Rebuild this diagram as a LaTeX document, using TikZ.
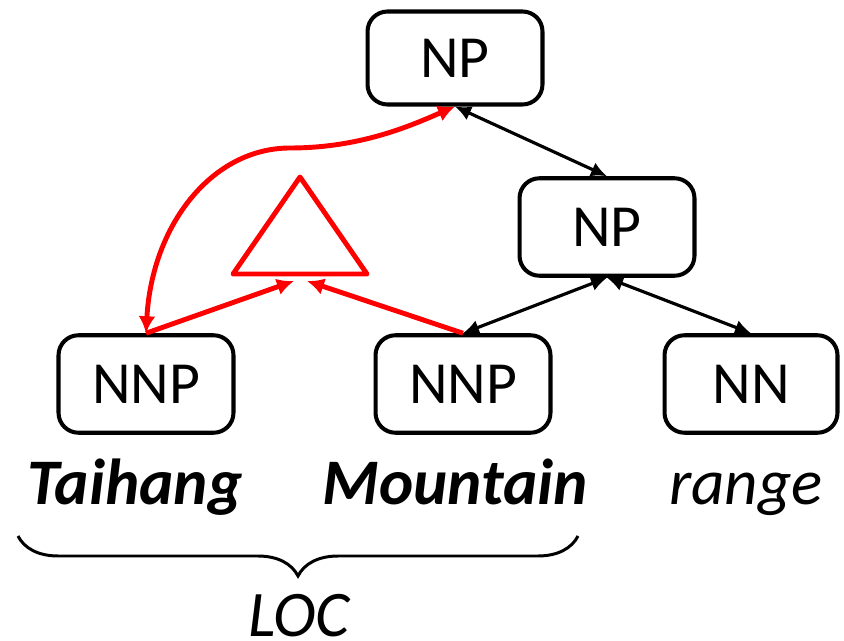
\documentclass[tikz,border=0pt]{standalone}
\usepackage{fontspec}
\setmainfont{Carlito}
\usetikzlibrary{arrows.meta, decorations.pathreplacing}

\begin{document}
\begin{tikzpicture}[x=0.02cm, y=-0.02cm,
			tag/.style={draw, line width=2.3pt, rounded corners=0.4cm, minimum width=3.5cm, minimum height=1.95cm, inner sep=0pt, font=\fontsize{34}{40}\selectfont},
			word/.style={anchor=base, inner sep=0pt, font=\fontsize{37}{44}\selectfont\itshape},
			link/.style={line width=1.8pt, {Latex[length=0.32cm, width=0.3cm]}-{Latex[length=0.32cm, width=0.3cm]}},
			redlink/.style={red, line width=2.8pt, -{Latex[length=0.34cm, width=0.34cm]}}]
			\useasboundingbox (0, 0) rectangle (844, 641);
			
			\node[tag, minimum height=1.86cm] (npa) at (455, 58) {NP};
			\node[tag] (npb) at (607, 227) {NP};
			\node[tag] (nnpa) at (146, 384) {NNP};
			\node[tag] (nnpb) at (463, 384) {NNP};
			\node[tag, minimum width=3.46cm] (nn) at (751, 384) {NN};
			
			\node[word, font=\fontsize{37}{44}\selectfont\bfseries\itshape] (tai) at (135, 504) {Taihang};
			\node[word, font=\fontsize{37}{44}\selectfont\bfseries\itshape] (mount) at (455, 504) {Mountain};
			\node[word] (rng) at (746, 504) {range};
			\node[word] (loc) at (299, 636) {LOC};
			
			\draw[link] (npa.south) -- (npb.north);
			\draw[link] (npb.south) -- (nnpb.north);
			\draw[link] (npb.south) -- (nn.north);
			
			% triangle
			\coordinate (tritop) at (300, 177);
			\coordinate (trileft) at (233, 274);
			\coordinate (triright) at (367, 274);
			\coordinate (tipa) at (294, 281);
			\coordinate (tipb) at (307, 281);
			\draw[red, line width=2.8pt, line join=round] (tritop) -- (trileft) -- (triright) -- cycle;
			
			\draw[redlink] (nnpa.north) -- (tipa);
			\draw[redlink] (nnpb.north) -- (tipb);
			\draw[redlink, {Latex[length=0.34cm, width=0.34cm]}-{Latex[length=0.34cm, width=0.34cm]}] (nnpa.north) .. controls (152, 225) and (212, 148) .. (290, 148) .. controls (360, 148) and (410, 126) .. (npa.south);
			
			\draw[line width=1.7pt, decorate, decoration={brace, mirror, amplitude=0.8cm}] (18, 536) -- (578, 536);
			
		\end{tikzpicture}
\end{document}
